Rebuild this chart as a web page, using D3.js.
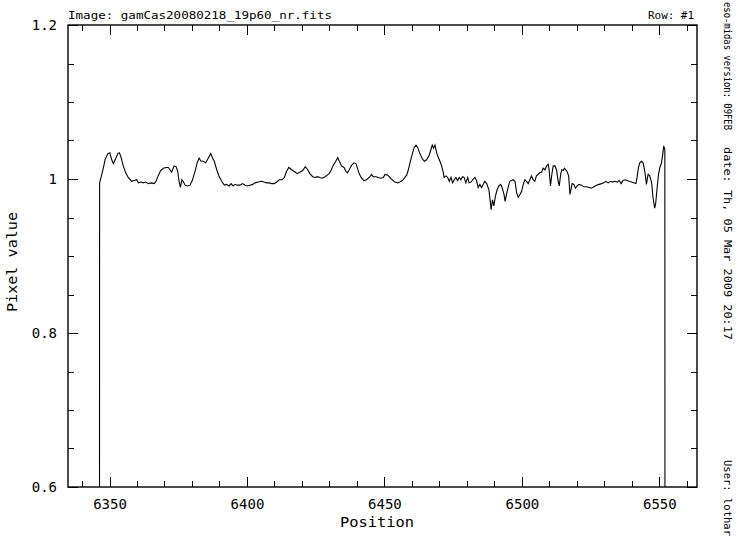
<!DOCTYPE html>
<html><head><meta charset="utf-8">
<script src="https://cdn.jsdelivr.net/npm/d3@7"></script>
<style>
body{margin:0;background:#fff;}
svg{display:block;}
text{font-family:"DejaVu Sans Mono","Liberation Mono",monospace;fill:#000;}
</style></head>
<body><svg id="c" width="741" height="540"></svg>
<script>
// ---- data ----
const positions = [6346.3,6346.4,6347.2,6347.8,6348.4,6349.4,6350.1,6350.8,6351.4,6352.3,6353.0,6353.6,6354.2,6355.0,6355.9,6356.8,6358.1,6359.0,6359.9,6360.5,6361.5,6362.3,6363.2,6364.1,6365.3,6366.3,6366.9,6367.8,6368.6,6369.6,6370.6,6371.4,6372.0,6372.6,6373.5,6374.2,6374.8,6375.3,6375.8,6376.3,6376.8,6377.5,6378.4,6379.3,6380.1,6381.1,6381.9,6382.6,6383.3,6384.1,6385.0,6385.9,6386.8,6387.4,6388.1,6389.0,6389.8,6390.8,6391.8,6392.6,6393.5,6394.2,6394.9,6395.6,6396.5,
6397.5,6398.4,6399.3,6400.1,6401.1,6402.1,6402.9,6404.1,6405.3,6406.2,6407.2,6408.1,6409.0,6409.9,6410.8,6411.7,6412.8,6413.6,6414.4,6415.2,6415.9,6416.6,6417.5,6418.3,6419.3,6420.3,6421.2,6422.1,6422.9,6423.9,6424.7,6425.7,6426.5,6427.4,6428.4,6429.2,6429.9,6430.7,6431.4,6432.3,6433.0,6433.6,6434.4,6435.3,6436.0,6436.5,6437.2,6438.1,6438.9,6439.6,6440.1,6440.8,6441.7,6442.5,6443.5,6444.5,6445.3,6445.9,6446.9,6447.7,6448.6,6449.6,
6450.2,6451.2,6452.0,6452.8,6453.8,6454.8,6455.6,6456.5,6457.2,6458.1,6458.7,6459.3,6460.1,6460.8,6461.5,6462.1,6462.9,6463.7,6464.5,6465.3,6466.2,6466.9,6467.4,6467.9,6468.4,6469.0,6469.6,6470.2,6470.8,6471.4,6471.7,6472.4,6473.0,6473.6,6474.2,6474.8,6475.4,6476.0,6476.6,6477.2,6477.8,6478.4,6479.0,6479.6,6480.3,6480.8,6481.5,6482.1,6482.9,6483.5,6484.1,6484.7,6485.3,6485.9,6486.5,6487.2,6488.0,6488.5,6488.8,6489.3,6489.8,6490.4,6491.0,6491.6,6492.3,6492.8,6493.5,6493.9,6494.4,6495.0,6495.6,6496.3,6496.8,6497.5,6498.1,6498.7,6499.3,6499.9,6500.5,6501.1,6501.7,6502.3,
6502.9,6503.5,6504.1,6504.7,6505.3,6505.9,6506.5,6507.2,6507.7,6508.4,6509.0,6509.6,6509.9,6510.4,6510.9,6511.4,6512.0,6512.6,6513.2,6513.6,6514.1,6514.5,6515.0,6515.5,6516.0,6516.5,6517.0,6517.5,6517.8,6518.3,6518.9,6519.5,6520.1,6520.8,6521.7,6522.5,6523.5,6524.5,6525.3,6526.2,6527.2,6528.1,6529.0,6529.8,6530.5,6531.4,6532.3,6533.0,6533.8,6534.7,6535.4,6536.1,6536.8,6537.6,6538.3,6539.0,6539.9,6540.7,6541.5,6541.9,6542.4,6542.9,6543.5,6544.1,6544.7,6545.3,6545.9,6546.5,6547.2,6547.7,6548.3,6548.7,6549.2,6549.7,6550.2,6550.8,6551.3,6551.6,6552.0,6552.1];
const pixelValues = [0,0.995,1.006,1.015,1.025,1.033,1.034,1.025,1.020,1.027,1.033,1.034,1.028,1.017,1.008,1.002,0.997,0.998,0.999,0.995,0.996,0.995,0.996,0.994,0.995,0.994,0.997,1.005,1.011,1.014,1.015,1.015,1.012,1.009,1.017,1.016,1.010,0.997,0.989,0.999,0.997,0.992,0.991,0.992,0.998,1.010,1.021,1.027,1.023,1.023,1.021,1.027,1.033,1.028,1.023,1.012,1.004,0.997,0.992,0.993,0.991,0.994,0.991,0.993,0.992,
0.992,0.994,0.992,0.991,0.992,0.993,0.995,0.996,0.997,0.996,0.995,0.995,0.994,0.994,0.996,0.999,0.999,1.002,1.010,1.015,1.013,1.011,1.009,1.007,1.009,1.011,1.016,1.012,1.007,1.003,1.002,1.003,1.002,1.001,1.003,1.005,1.007,1.012,1.018,1.023,1.028,1.023,1.017,1.015,1.010,1.008,1.012,1.018,1.021,1.020,1.015,1.007,1.001,0.998,0.999,1.002,1.006,1.003,1.003,1.002,1.001,1.002,
1.006,1.005,1.002,0.999,0.996,0.995,0.996,0.998,1.001,1.005,1.012,1.021,1.032,1.041,1.044,1.041,1.033,1.027,1.023,1.025,1.030,1.038,1.044,1.040,1.044,1.034,1.028,1.023,1.017,1.009,1.002,1.004,1.002,0.997,1.002,0.995,0.999,1.002,0.998,1.002,0.999,1.003,1.002,0.995,1.002,0.995,0.996,0.999,1.002,0.998,0.989,0.993,0.989,0.993,0.997,0.994,0.986,0.971,0.960,0.973,0.965,0.978,0.986,0.991,0.993,0.989,0.980,0.971,0.980,0.989,0.997,0.998,0.999,0.997,0.982,0.976,0.980,0.984,0.993,0.999,0.997,0.994,
0.999,1.004,0.999,0.997,1.004,1.006,1.008,1.009,1.014,1.012,1.017,1.019,1.012,0.991,1.006,1.017,1.017,1.012,0.997,0.991,1.006,1.012,1.011,1.014,1.012,1.009,1.004,0.980,0.986,0.994,0.993,0.988,0.991,0.993,0.992,0.990,0.990,0.989,0.988,0.990,0.992,0.993,0.994,0.995,0.997,0.995,0.997,0.996,0.997,0.996,0.998,0.994,0.998,0.999,0.998,0.997,0.996,0.995,0.994,1.002,1.015,1.021,1.023,1.021,1.010,0.993,1.006,1.004,0.995,0.976,0.962,0.969,0.989,1.006,1.015,1.021,1.034,1.043,1.038,0];

const xDomain = [6334.9, 6563.7];
const yDomain = [0.6, 1.2];
const xMajorTicks = [6350, 6400, 6450, 6500, 6550];
const yMajorTicks = [0.6, 0.8, 1.0, 1.2];
const yTickLabels = ["0.6", "0.8", "1", "1.2"];
const titleText = "Image:  gamCas20080218_19p60_nr.fits";
const rowText = "Row: #1";
const sideTexts = ["eso-midas version: 09FEB", "date: Th, 05 Mar 2009 20:17", "User: lothar"];

// ---- layout ----
const L = 68, R = 697, T = 25, B = 487;
const svg = d3.select("#c");
const x = d3.scaleLinear().domain(xDomain).range([L, R]);
const y = d3.scaleLinear().domain(yDomain).range([B, T]);

const xMinor = d3.range(6340, 6561, 10);
const yMinor = d3.range(0, 13).map(i => 0.6 + i * 0.05);

const g = svg.append("g");
g.append("rect").attr("x", L).attr("y", T).attr("width", R - L).attr("height", B - T)
  .attr("fill", "none").attr("stroke", "#000").attr("stroke-width", 1.4);

function isMajorX(v){ return Math.abs(v % 50) < 1e-6; }

xMinor.forEach(v => {
  const len = isMajorX(v) ? 10 : 6;
  const px = Math.round(x(v)) + 0.5;
  g.append("line").attr("x1", px).attr("x2", px).attr("y1", B).attr("y2", B - len).attr("stroke", "#000");
  g.append("line").attr("x1", px).attr("x2", px).attr("y1", T).attr("y2", T + len).attr("stroke", "#000");
});
yMinor.forEach((v, i) => {
  const len = (i % 4 === 0) ? 10 : 6;
  const py = Math.round(y(v)) + 0.5;
  g.append("line").attr("x1", L).attr("x2", L + len).attr("y1", py).attr("y2", py).attr("stroke", "#000");
  g.append("line").attr("x1", R).attr("x2", R - len).attr("y1", py).attr("y2", py).attr("stroke", "#000");
});

const xAxis = d3.axisBottom(x).tickValues(xMajorTicks).tickSize(0).tickPadding(12).tickFormat(d3.format("d"));
const xa = svg.append("g").attr("transform", `translate(0,${B})`).call(xAxis);
xa.select(".domain").remove();
xa.selectAll("text").attr("font-size", 14).style("font-family", "DejaVu Sans Mono");

const yAxis = d3.axisLeft(y).tickValues(yMajorTicks).tickSize(0).tickPadding(11)
  .tickFormat((d, i) => yTickLabels[i]);
const ya = svg.append("g").attr("transform", `translate(${L},0)`).call(yAxis);
ya.select(".domain").remove();
ya.selectAll("text").attr("font-size", 14).style("font-family", "DejaVu Sans Mono");

svg.append("clipPath").attr("id", "clip").append("rect")
  .attr("x", L).attr("y", T).attr("width", R - L).attr("height", B - T);

const data = positions.map((p, i) => [p, pixelValues[i]]);
svg.append("path").datum(data)
  .attr("clip-path", "url(#clip)")
  .attr("fill", "none").attr("stroke", "#000").attr("stroke-width", 1.1)
  .attr("d", d3.line().x(d => x(d[0])).y(d => y(d[1])));

// titles
svg.append("text").attr("x", L).attr("y", 19).attr("font-size", 11)
  .attr("textLength", 264).attr("lengthAdjust", "spacingAndGlyphs").text(titleText);
svg.append("text").attr("x", 648).attr("y", 19).attr("font-size", 11)
  .attr("textLength", 46).attr("lengthAdjust", "spacingAndGlyphs").text(rowText);
svg.append("text").attr("x", 340).attr("y", 527).attr("font-size", 14)
  .attr("textLength", 74).attr("lengthAdjust", "spacingAndGlyphs").text("Position");
svg.append("text").attr("transform", `translate(17,312) rotate(-90)`).attr("font-size", 14)
  .attr("textLength", 100).attr("lengthAdjust", "spacingAndGlyphs").text("Pixel value");

// side texts (rotated clockwise)
const sideStart = [2, 147, 460];
const sideLen = [128, 193, 76];
sideTexts.forEach((t, i) => {
  svg.append("text").attr("transform", `translate(724,${sideStart[i]}) rotate(90)`)
    .attr("font-size", 11).attr("textLength", sideLen[i]).attr("lengthAdjust", "spacingAndGlyphs").text(t);
});
</script></body></html>
